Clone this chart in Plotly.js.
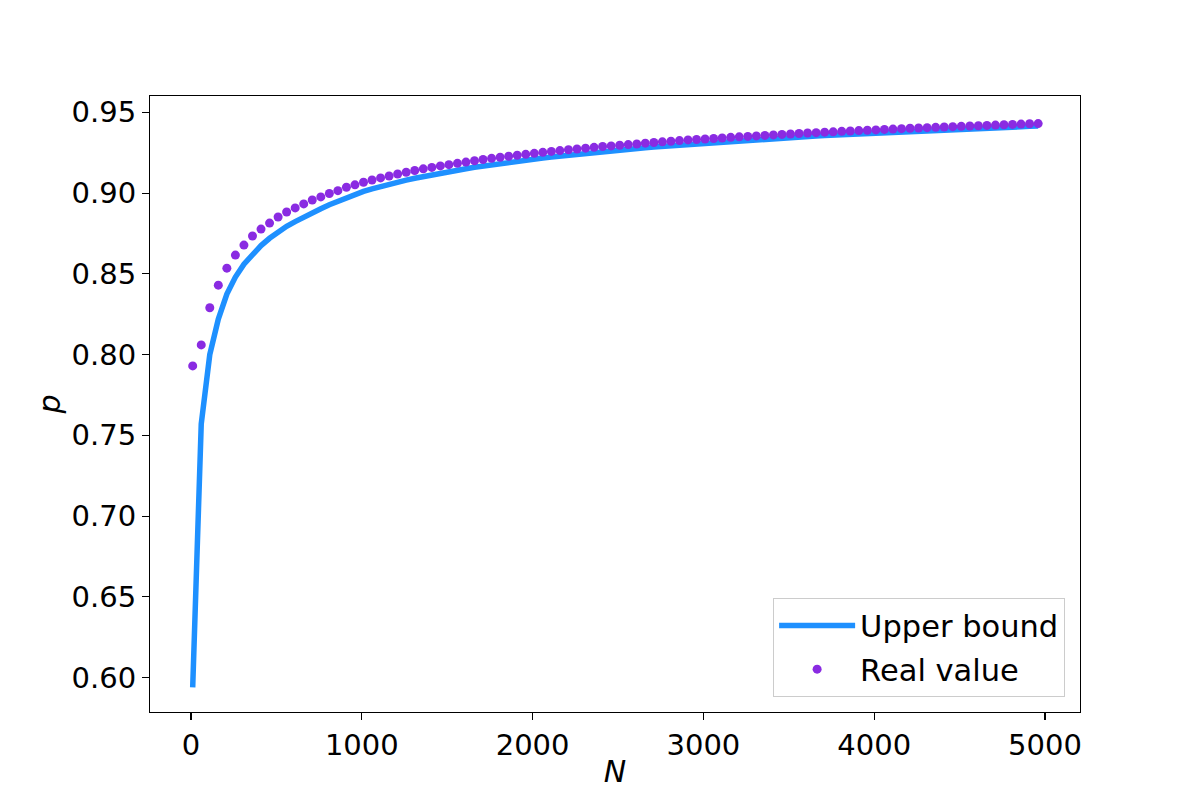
<!DOCTYPE html>
<html>
<head>
<meta charset="utf-8">
<script src="https://cdn.plot.ly/plotly-3.0.1.min.js"></script>
<style>html,body{margin:0;padding:0;background:#fff;}#chart{width:1200px;height:800px;}</style>
</head>
<body>
<div id="chart"></div>
<script>
// N values (x)
const nValues = [10,60,110,160,210,260,310,360,410,460,510,560,610,660,710,760,810,860,910,960,
1010,1060,1110,1160,1210,1260,1310,1360,1410,1460,1510,1560,1610,1660,1710,1760,1810,1860,1910,1960,
2010,2060,2110,2160,2210,2260,2310,2360,2410,2460,2510,2560,2610,2660,2710,2760,2810,2860,2910,2960,
3010,3060,3110,3160,3210,3260,3310,3360,3410,3460,3510,3560,3610,3660,3710,3760,3810,3860,3910,3960,
4010,4060,4110,4160,4210,4260,4310,4360,4410,4460,4510,4560,4610,4660,4710,4760,4810,4860,4910,4960];

// Upper bound (line)
const upperBound = [0.594,0.757,0.800,0.822,0.8375,0.848,0.856,0.862,0.8675,0.872,
0.8758,0.8794,0.8823,0.8852,0.8880,0.8903,0.8928,0.8949,0.8973,0.8991,
0.9010,0.9026,0.9041,0.9055,0.9068,0.9080,0.9092,0.9103,0.9113,0.9123,
0.9133,0.9142,0.9151,0.9160,0.9168,0.9176,0.9183,0.9190,0.9197,0.9204,
0.9211,0.9217,0.9223,0.9229,0.9235,0.9241,0.9247,0.9252,0.9257,0.9262,
0.9267,0.9272,0.9276,0.9281,0.9285,0.9289,0.9293,0.9297,0.9301,0.9305,
0.9309,0.9313,0.9317,0.9321,0.9324,0.9327,0.9331,0.9334,0.9338,0.9341,
0.9344,0.9347,0.9350,0.9353,0.9356,0.9358,0.9361,0.9364,0.9367,0.9370,
0.9372,0.9375,0.9377,0.9380,0.9382,0.9384,0.9387,0.9389,0.9392,0.9394,
0.9396,0.9398,0.9400,0.9402,0.9404,0.9406,0.9408,0.9410,0.9413,0.9415];

// Real value (points)
const realValue = [0.793,0.806,0.829,0.843,0.8535,0.8616,0.8678,0.8734,0.8777,0.8814,
0.8852,0.8883,0.8908,0.8933,0.8957,0.8976,0.8997,0.9015,0.9036,0.9051,
0.9067,0.9081,0.9094,0.9106,0.9118,0.9129,0.9140,0.9150,0.9159,0.9168,
0.9176,0.9184,0.9192,0.9200,0.9208,0.9215,0.9222,0.9228,0.9234,0.9240,
0.9246,0.9252,0.9258,0.9263,0.9268,0.9273,0.9278,0.9283,0.9288,0.9292,
0.9296,0.9300,0.9304,0.9309,0.9313,0.9317,0.9321,0.9325,0.9329,0.9332,
0.9335,0.9338,0.9341,0.9345,0.9348,0.9351,0.9354,0.9357,0.9360,0.9363,
0.9366,0.9369,0.9372,0.9374,0.9377,0.9379,0.9382,0.9384,0.9387,0.9389,
0.9391,0.9394,0.9396,0.9399,0.9401,0.9403,0.9405,0.9407,0.9409,0.9411,
0.9413,0.9415,0.9417,0.9419,0.9421,0.9423,0.9425,0.9427,0.9429,0.9430];

const seriesNames = ['Upper bound', 'Real value'];
const xTicks = [0, 1000, 2000, 3000, 4000, 5000];
const yTicks = [0.60, 0.65, 0.70, 0.75, 0.80, 0.85, 0.90, 0.95];

const FONT = 'DejaVu Sans, Liberation Sans, sans-serif';

const traces = [
  {
    x: nValues, y: upperBound, name: seriesNames[0], legendgroup: 'a',
    type: 'scatter', mode: 'lines',
    line: {color: '#1E90FF', width: 5.5}
  },
  {
    x: nValues, y: realValue, name: seriesNames[1], legendgroup: 'b',
    type: 'scatter', mode: 'markers',
    marker: {color: '#8A2BE2', size: 9, line: {width: 0}}
  }
];

const axisCommon = {
  showline: true, mirror: true, linecolor: '#000', linewidth: 1.1,
  ticks: 'outside', ticklen: 7, tickwidth: 1.1, tickcolor: '#000',
  showgrid: false, zeroline: false,
  tickfont: {family: FONT, size: 29, color: '#000'}
};

const layout = {
  width: 1200, height: 800,
  paper_bgcolor: '#fff', plot_bgcolor: '#fff',
  margin: {l: 150, r: 120, t: 96, b: 88},
  showlegend: true,
  legend: {
    x: 0.984, xanchor: 'right', y: 0.024, yanchor: 'bottom',
    bgcolor: 'rgba(255,255,255,0.8)', bordercolor: '#cccccc', borderwidth: 1,
    font: {family: FONT, size: 30.5, color: '#000'},
    traceorder: 'grouped', tracegroupgap: 1,
    itemwidth: 76, entrywidth: 215
  },
  xaxis: Object.assign({}, axisCommon, {
    range: [-240, 5205],
    tickmode: 'array', tickvals: xTicks, ticktext: xTicks.map(String),
    title: {text: '<i>N</i>', font: {family: FONT, size: 30, color: '#000'}, standoff: 0}
  }),
  yaxis: Object.assign({}, axisCommon, {
    range: [0.5787, 0.9601],
    tickmode: 'array', tickvals: yTicks, ticktext: yTicks.map(v => v.toFixed(2)),
    title: {text: '<i>p</i>', font: {family: FONT, size: 30, color: '#000'}, standoff: 2}
  })
};

Plotly.newPlot('chart', traces, layout, {displayModeBar: false, staticPlot: true});
</script>
</body>
</html>
